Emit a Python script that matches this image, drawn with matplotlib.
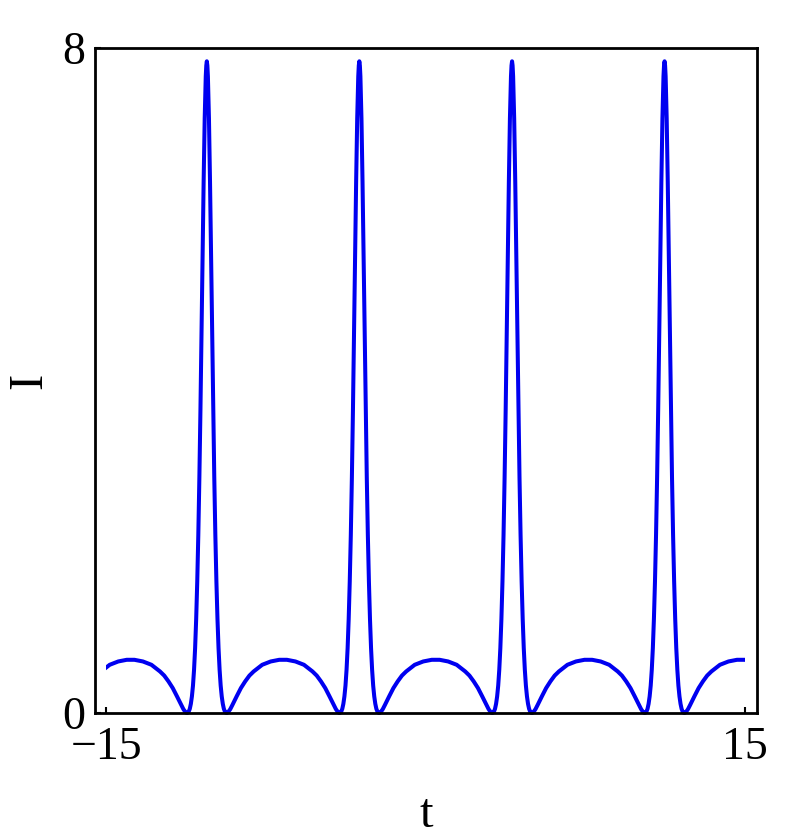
import numpy as np
import matplotlib
matplotlib.use("Agg")
import matplotlib.pyplot as plt
from matplotlib.patches import Rectangle

# pulse profile: offset from a peak centre -> intensity
profile_dt = [0.0, 0.025, 0.05, 0.1, 0.15, 0.2, 0.25, 0.3, 0.35, 0.4, 0.45,
              0.5, 0.55, 0.6, 0.65, 0.7, 0.75, 0.8, 0.85, 0.9, 0.93, 0.95,
              1.0, 1.1, 1.2, 1.4, 1.6, 1.8, 2.0, 2.2, 2.4, 2.6, 2.8, 3.0,
              3.2, 3.4, 3.58]
profile_I = [7.84, 7.79, 7.66, 7.15, 6.39, 5.49, 4.55, 3.64, 2.83, 2.14, 1.58,
             1.13, 0.78, 0.52, 0.33, 0.20, 0.11, 0.05, 0.017, 0.002, 0.0, 0.001,
             0.01, 0.046, 0.096, 0.20, 0.30, 0.38, 0.45, 0.50, 0.54, 0.58, 0.60, 0.62,
             0.63, 0.64, 0.64]

# peak positions (incl. the ones just outside the window, for the edge arcs)
peak_t = [-17.43, -10.27, -3.11, 4.06, 11.22, 18.38]

t_min, t_max = -15, 15
x_ticks = [-15, 15]
y_ticks = [0, 8]

dt = np.array(profile_dt)
amp = np.array(profile_I)
t_all, I_all = [], []
for c in peak_t:
    t_all.append(np.concatenate([c - dt[::-1], c + dt[1:]]))
    I_all.append(np.concatenate([amp[::-1], amp[1:]]))
t_all = np.concatenate(t_all)
I_all = np.concatenate(I_all)

plt.rcParams['font.family'] = ['Liberation Serif', 'DejaVu Serif']

fig = plt.figure(figsize=(8.06, 8.38), dpi=100)
ax = fig.add_axes([95/806, 1 - 713/838, (757 - 95)/806, (713 - 48)/838])

line, = ax.plot(t_all, I_all, color='#0000f0', lw=2.9, solid_joinstyle='round')
clip = Rectangle((t_min, -1), t_max - t_min, 20, transform=ax.transData)
line.set_clip_path(clip)

ax.set_xlim(-15.52, 15.56)
ax.set_ylim(0, 8)
ax.set_xticks(x_ticks)
ax.set_yticks(y_ticks)
ax.tick_params(direction='in', length=4, width=1.5, labelsize=33)
ax.tick_params(axis='x', pad=10)
ax.tick_params(axis='y', pad=7)
for s in ax.spines.values():
    s.set_linewidth(2.0)

ax.set_xlabel('t', fontsize=35, labelpad=17)
ax.set_ylabel('I', fontsize=35, labelpad=8)

fig.savefig('out.png', dpi=100)
